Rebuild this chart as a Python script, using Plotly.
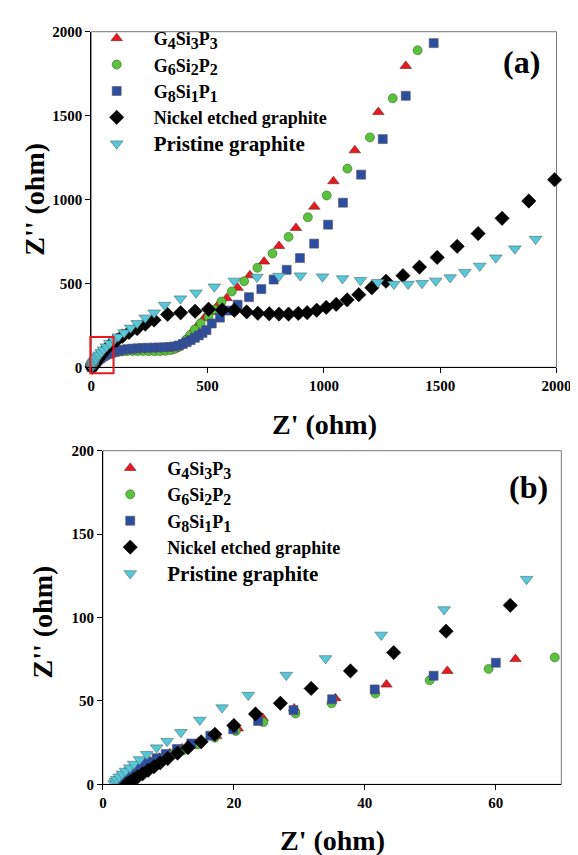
import plotly.graph_objects as go

W, H = 578, 855
FONT = "Liberation Serif"

# ---------------- data (Z', Z'') ----------------
SUB = '<sub><span style="font-size:16px">{}</span></sub>'
names = ["G" + SUB.format(4) + "Si" + SUB.format(3) + "P" + SUB.format(3),
         "G" + SUB.format(6) + "Si" + SUB.format(2) + "P" + SUB.format(2),
         "G" + SUB.format(8) + "Si" + SUB.format(1) + "P" + SUB.format(1),
         "Nickel etched graphite",
         '<span style="font-size:21px">Pristine graphite</span>']

g4_x = [2.0, 2.4, 2.9, 3.5, 4.2, 5.0, 6.0, 7.2, 8.6, 10.2, 12.1, 14.5, 17.3, 20.6, 24.4, 29.2, 35.5, 43.3, 52.6, 63.0,
        75, 90, 107, 126, 147, 170, 193, 216, 240, 264, 288, 312, 335, 355, 372, 388, 404, 421, 440, 462,
        485, 510, 546, 582, 629, 682, 743, 807, 880, 959, 1041, 1133, 1234, 1352]
g4_y = [0.5, 2.0, 3.6, 5.4, 7.4, 9.4, 11.5, 13.7, 16.0, 18.6, 21.5, 25.0, 29.0, 33.5, 39.8, 45.5, 51.6, 59.8, 68.0, 75.1,
        81, 87, 91, 94, 96, 97, 97, 97, 96, 95, 95, 96, 100, 108, 120, 140, 163, 188, 222, 258,
        293, 330, 373, 412, 474, 548, 630, 723, 830, 957, 1109, 1293, 1521, 1796]

g6_x = [2.1, 2.5, 3.0, 3.6, 4.3, 5.2, 6.2, 7.5, 9.0, 10.7, 12.3, 14.4, 17.1, 20.3, 24.5, 29.4, 34.9, 41.6, 49.9, 58.9,
        69.0, 81, 96, 113, 132, 153, 176, 199, 223, 247, 271, 295, 319, 341, 360, 377, 392, 408, 425, 445,
        470, 504, 529, 560, 604, 657, 714, 779, 848, 931, 1012, 1101, 1198, 1296, 1403]
g6_y = [0.4, 1.9, 3.4, 5.2, 7.1, 9.1, 11.1, 13.3, 15.6, 18.2, 20.5, 23.9, 28.0, 32.0, 37.3, 42.5, 48.6, 54.5, 62.4, 69.2,
        76.1, 82, 87, 91, 94, 96, 97, 97, 97, 96, 96, 96, 98, 102, 110, 122, 140, 165, 193, 225,
        262, 300, 344, 392, 452, 513, 593, 678, 777, 894, 1024, 1184, 1370, 1603, 1889]

g8_x = [1.9, 2.3, 2.7, 3.3, 3.9, 4.7, 5.7, 6.8, 8.2, 9.6, 11.3, 13.5, 16.4, 19.9, 23.7, 29.1, 35.0, 41.5, 50.5, 60.0,
        72, 85, 100, 117, 135, 155, 176, 198, 220, 243, 266, 289, 312, 334, 355, 375, 393, 410, 427, 445,
        462, 478, 495, 518, 553, 590, 629, 678, 731, 784, 840, 897, 958, 1018, 1082, 1160, 1253, 1352, 1472]
g8_y = [0.6, 2.0, 3.5, 5.3, 7.3, 9.2, 11.2, 13.3, 15.7, 18.2, 21.2, 24.5, 29.2, 33.0, 38.0, 44.5, 51.0, 56.9, 65.1, 72.9,
        80, 87, 93, 99, 104, 108, 111, 113, 115, 116, 117, 118, 119, 121, 124, 130, 139, 150, 162, 176,
        190, 205, 222, 261, 296, 338, 373, 418, 466, 523, 581, 651, 737, 850, 981, 1148, 1360, 1618, 1932]

ni_x = [3.7, 4.2, 4.7, 5.3, 6.05, 6.9, 7.8, 8.75, 9.9, 11.4, 13.0, 15.0, 17.1, 20.0, 23.3, 27.1, 31.8, 37.8, 44.4, 52.4,
        62.2, 76, 93, 111, 134, 162, 197, 232, 270, 328, 384, 446, 504, 563, 615, 668, 716, 765, 807, 848,
        890, 928, 969, 1010, 1053, 1100, 1150, 1206, 1267, 1340, 1411, 1487, 1573, 1663, 1766, 1881, 1992]
ni_y = [0.4, 1.6, 2.9, 4.5, 6.3, 8.4, 10.6, 12.9, 15.5, 18.7, 22.0, 25.5, 30.0, 35.3, 42.2, 48.6, 57.5, 68.0, 79.0, 91.8,
        107.3, 127, 148, 162, 185, 208, 231, 257, 282, 315, 325, 334, 346, 342, 340, 330, 322, 319, 317, 317,
        321, 326, 340, 357, 375, 402, 433, 474, 513, 546, 597, 655, 721, 797, 888, 991, 1118]

pg_x = [1.7, 1.9, 2.1, 2.5, 2.95, 3.45, 4.1, 4.7, 5.6, 6.7, 8.2, 9.8, 11.9, 14.8, 18.2, 22.2, 28.0, 34.0, 42.5, 52.1,
        64.7, 80, 97, 116, 141, 169, 197, 232, 270, 315, 383, 450, 529, 615, 712, 807, 899, 994, 1080, 1157,
        1232, 1301, 1362, 1422, 1481, 1543, 1606, 1670, 1739, 1821, 1910]
pg_y = [0.5, 1.8, 3.1, 4.5, 6.3, 8.0, 10.0, 12.2, 14.9, 18.0, 22.0, 25.9, 31.2, 38.6, 46.0, 53.5, 65.5, 75.5, 89.6, 104.8,
        123, 143, 162, 182, 207, 235, 262, 295, 325, 371, 409, 444, 480, 515, 538, 544, 546, 540, 529, 519,
        507, 496, 496, 501, 515, 535, 567, 604, 653, 707, 764]

xs = [g4_x, g6_x, g8_x, ni_x, pg_x]
ys = [g4_y, g6_y, g8_y, ni_y, pg_y]

# styles
symbols = ["triangle-up", "circle", "square", "diamond", "triangle-down"]
colors = ["#e8191f", "#5cc13c", "#2d4d9e", "#000000", "#58c8d8"]
sizes = [10, 9, 9, 11, 11]
outl = ["#6b2020", "#2f6a20", "#555566", "#000000", "#4a6a70"]

ticks_a = [0, 500, 1000, 1500, 2000]
ticks_bx = [0, 20, 40, 60]
ticks_by = [0, 50, 100, 150, 200]


def px(x):
    return x / W


def py(y):
    return 1 - y / H


fig = go.Figure()
for panel, (xa, ya, leg) in enumerate([("x", "y", "legend"), ("x2", "y2", "legend2")]):
    for i in range(5):
        fig.add_trace(go.Scatter(
            x=xs[i], y=ys[i], mode="markers", name=names[i],
            xaxis=xa, yaxis=ya, legend=leg, legendgroup=f"{panel}-{i}",
            cliponaxis=(panel == 1),
            marker=dict(symbol=symbols[i], color=colors[i], size=sizes[i],
                        line=dict(color=outl[i], width=0.6)),
        ))

tickfont = dict(family=FONT, size=15, color="black", weight="bold")
axis_common = dict(showline=True, linecolor="black", linewidth=1, mirror=False,
                   ticks="outside", ticklen=5, tickcolor="black", showgrid=False,
                   zeroline=False, tickfont=tickfont)

legfont = dict(family=FONT, size=18, color="black", weight="bold")
fig.update_layout(
    width=W, height=H, margin=dict(l=0, r=0, t=0, b=0),
    paper_bgcolor="white", plot_bgcolor="white",
    xaxis=dict(domain=[px(82), px(563)], range=[0, 2000], tickvals=ticks_a, anchor="y", **axis_common),
    yaxis=dict(domain=[py(358), py(16)], range=[0, 2000], tickvals=ticks_a, anchor="x", **axis_common),
    xaxis2=dict(domain=[px(94), px(568)], range=[0, 70], tickvals=ticks_bx, anchor="y2", **axis_common),
    yaxis2=dict(domain=[py(783), py(443)], range=[0, 200], tickvals=ticks_by, anchor="x2", **axis_common),
    legend=dict(x=px(70), y=py(4), xanchor="left", yanchor="top", font=legfont,
                bgcolor="rgba(0,0,0,0)", itemwidth=64, tracegroupgap=0, traceorder="grouped"),
    legend2=dict(x=px(84), y=py(442), xanchor="left", yanchor="top", font=legfont,
                 bgcolor="rgba(0,0,0,0)", itemwidth=64, tracegroupgap=0, traceorder="grouped"),
)

# frames (grey, top/right)
for xr, yr in [("x domain", "y domain"), ("x2 domain", "y2 domain")]:
    fig.add_shape(type="rect", xref=xr, yref=yr, x0=0, x1=1, y0=0, y1=1,
                  line=dict(color="#777777", width=1), layer="below")

# red zoom box in panel (a) (marks the region enlarged in panel b)
fig.add_shape(type="rect", xref="paper", yref="paper", x0=px(81), x1=px(105), y0=py(364), y1=py(327),
              line=dict(color="#e8191f", width=2))

titlefont = dict(family=FONT, size=28, color="black", weight="bold")
ann = [
    dict(text="(a)", x=px(527), y=py(47), font=dict(family=FONT, size=32, color="black", weight="bold")),
    dict(text="(b)", x=px(534), y=py(480), font=dict(family=FONT, size=32, color="black", weight="bold")),
    dict(text="Z' (ohm)", x=px(323), y=py(416), font=titlefont),
    dict(text="Z' (ohm)", x=px(331), y=py(840), font=titlefont),
    dict(text="Z'' (ohm)", x=px(23), y=py(187), font=titlefont, textangle=-90),
    dict(text="Z'' (ohm)", x=px(31), y=py(617), font=titlefont, textangle=-90),
]
for a in ann:
    fig.add_annotation(xref="paper", yref="paper", showarrow=False,
                       xanchor="center", yanchor="middle", **a)

fig.write_html("out.html")
